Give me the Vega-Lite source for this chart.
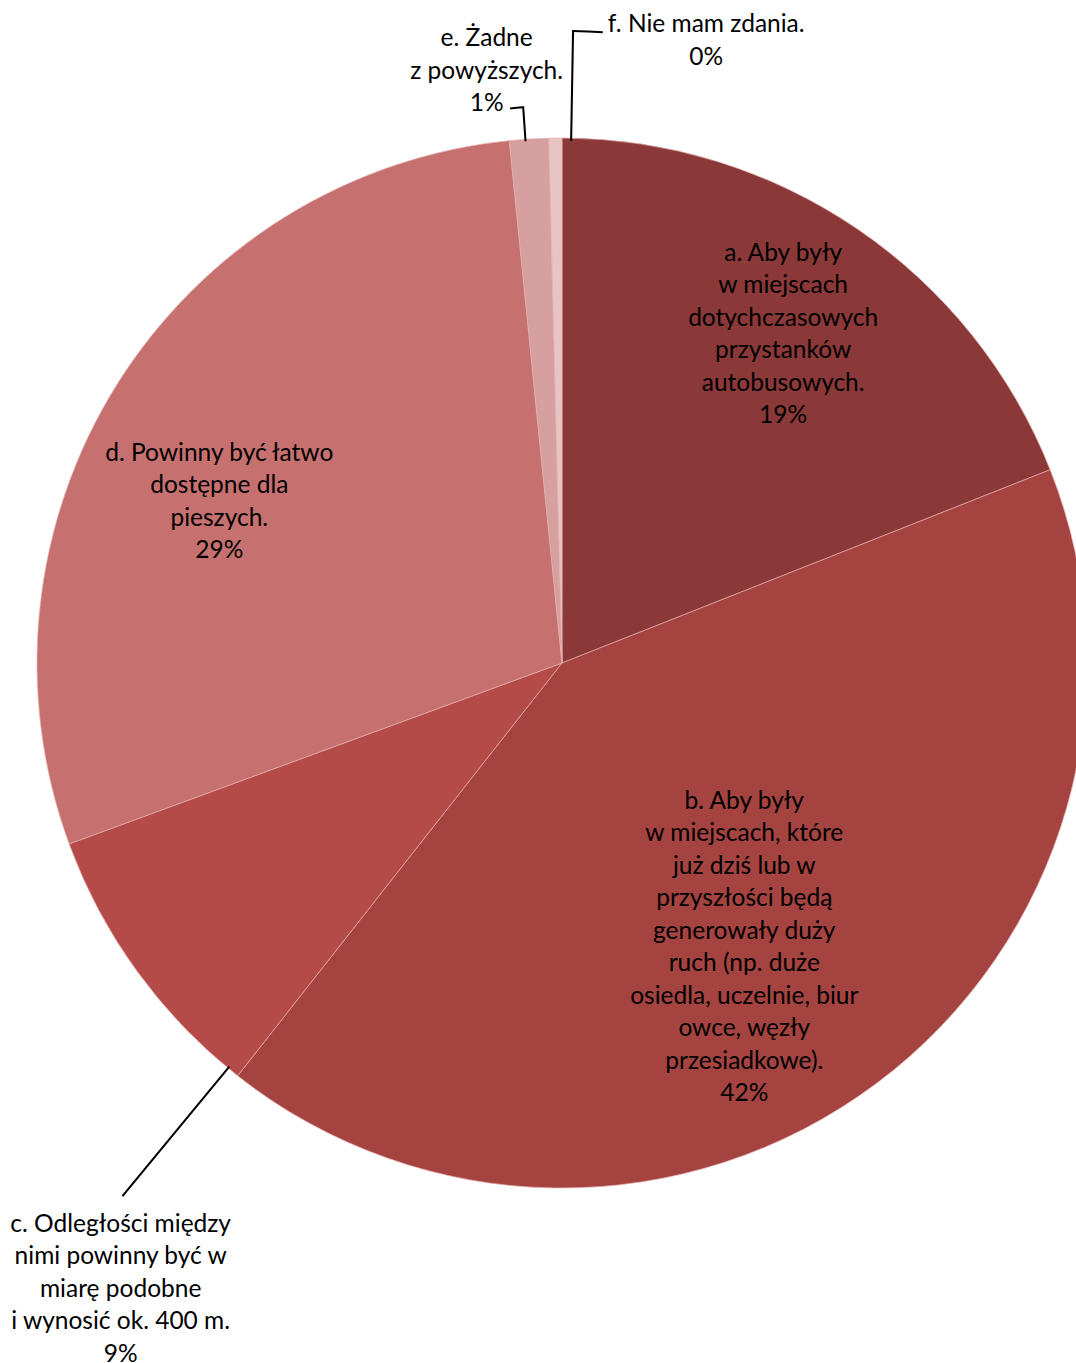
{
  "$schema": "https://vega.github.io/schema/vega-lite/v6.json",
  "width": 1028,
  "height": 1326,
  "autosize": {"type": "none"},
  "padding": {"left": 48, "top": 0, "right": 0, "bottom": 37},
  "background": "white",
  "config": {"view": {"stroke": null}},
  "data": {
    "values": [
      {"k": "a", "v": 19.0, "label": "a. Aby były\nw miejscach\ndotychczasowych\nprzystanków\nautobusowych.\n19%"},
      {"k": "b", "v": 41.6, "label": "b. Aby były\nw miejscach, które\njuż dziś lub w\nprzyszłości będą\ngenerowały duży\nruch (np. duże\nosiedla, uczelnie, biur\nowce, węzły\nprzesiadkowe).\n42%"},
      {"k": "c", "v": 8.8, "label": "c. Odległości między\nnimi powinny być w\nmiarę podobne\ni wynosić ok. 400 m.\n9%"},
      {"k": "d", "v": 29.0, "label": "d. Powinny być łatwo\ndostępne dla\npieszych.\n29%"},
      {"k": "e", "v": 1.2, "label": "e. Żadne\nz powyższych.\n1%"},
      {"k": "f", "v": 0.4, "label": "f. Nie mam zdania.\n0%"}
    ]
  },
  "layer": [
    {
      "mark": {"type": "arc", "outerRadius": 525, "stroke": "#E2AEAD", "strokeWidth": 0.7},
      "encoding": {
        "theta": {"field": "v", "type": "quantitative", "stack": true},
        "order": {"field": "k", "type": "ordinal", "sort": "ascending"},
        "color": {
          "field": "k",
          "type": "nominal",
          "scale": {"domain": ["a", "b", "c", "d", "e", "f"], "range": ["#8B3838", "#A54341", "#B44B49", "#C6716F", "#D6A0A0", "#E8C4C4"]},
          "legend": null
        }
      }
    },
    {
      "transform": [{"filter": "datum.k === 'c'"}],
      "mark": {"type": "arc", "stroke": "black", "strokeWidth": 2, "fillOpacity": 0},
      "encoding": {"theta": {"value": 3.831}, "theta2": {"value": 3.8311}, "radius": {"value": 690}, "radius2": {"value": 524}}
    },
    {
      "transform": [{"filter": "datum.k === 'e'"}],
      "mark": {"type": "arc", "stroke": "black", "strokeWidth": 2, "fillOpacity": 0},
      "encoding": {"theta": {"value": 6.2134}, "theta2": {"value": 6.2135}, "radius": {"value": 557}, "radius2": {"value": 524}}
    },
    {
      "transform": [{"filter": "datum.k === 'e'"}],
      "mark": {"type": "arc", "stroke": "black", "strokeWidth": 2, "fillOpacity": 0},
      "encoding": {"theta": {"value": 6.1898}, "theta2": {"value": 6.2134}, "radius": {"value": 557}, "radius2": {"value": 557}}
    },
    {
      "transform": [{"filter": "datum.k === 'f'"}],
      "mark": {"type": "arc", "stroke": "black", "strokeWidth": 2, "fillOpacity": 0},
      "encoding": {"theta": {"value": 0.01745}, "theta2": {"value": 0.01755}, "radius": {"value": 632}, "radius2": {"value": 523}}
    },
    {
      "transform": [{"filter": "datum.k === 'f'"}],
      "mark": {"type": "arc", "stroke": "black", "strokeWidth": 2, "fillOpacity": 0},
      "encoding": {"theta": {"value": 0.01745}, "theta2": {"value": 0.0646}, "radius": {"value": 632}, "radius2": {"value": 632}}
    },
    {
      "mark": {"type": "text", "font": "Lato", "fontSize": 24.5, "lineHeight": 32.5, "lineBreak": "\n", "align": "center", "baseline": "middle", "color": "black", "dx": -2, "dy": -81},
      "encoding": {
        "theta": {"field": "v", "type": "quantitative", "stack": true},
        "order": {"field": "k", "type": "ordinal", "sort": "ascending"},
        "detail": {"field": "k", "type": "nominal"},
        "radius": {"value": 397},
        "text": {"condition": {"test": "datum.k === 'a'", "field": "label"}, "value": ""}
      }
    },
    {
      "mark": {"type": "text", "font": "Lato", "fontSize": 24.5, "lineHeight": 32.5, "lineBreak": "\n", "align": "center", "baseline": "middle", "color": "black", "dx": -21, "dy": -134},
      "encoding": {
        "theta": {"field": "v", "type": "quantitative", "stack": true},
        "order": {"field": "k", "type": "ordinal", "sort": "ascending"},
        "detail": {"field": "k", "type": "nominal"},
        "radius": {"value": 340},
        "text": {"condition": {"test": "datum.k === 'b'", "field": "label"}, "value": ""}
      }
    },
    {
      "mark": {"type": "text", "font": "Lato", "fontSize": 24.5, "lineHeight": 32.5, "lineBreak": "\n", "align": "center", "baseline": "middle", "color": "black", "dx": 146, "dy": 135},
      "encoding": {
        "theta": {"field": "v", "type": "quantitative", "stack": true},
        "order": {"field": "k", "type": "ordinal", "sort": "ascending"},
        "detail": {"field": "k", "type": "nominal"},
        "radius": {"value": 726},
        "text": {"condition": {"test": "datum.k === 'c'", "field": "label"}, "value": ""}
      }
    },
    {
      "mark": {"type": "text", "font": "Lato", "fontSize": 24.5, "lineHeight": 32.5, "lineBreak": "\n", "align": "center", "baseline": "middle", "color": "black", "dx": -24, "dy": -10},
      "encoding": {
        "theta": {"field": "v", "type": "quantitative", "stack": true},
        "order": {"field": "k", "type": "ordinal", "sort": "ascending"},
        "detail": {"field": "k", "type": "nominal"},
        "radius": {"value": 376},
        "text": {"condition": {"test": "datum.k === 'd'", "field": "label"}, "value": ""}
      }
    },
    {
      "mark": {"type": "text", "font": "Lato", "fontSize": 24.5, "lineHeight": 32.5, "lineBreak": "\n", "align": "center", "baseline": "middle", "color": "black", "dx": -38, "dy": -30},
      "encoding": {
        "theta": {"field": "v", "type": "quantitative", "stack": true},
        "order": {"field": "k", "type": "ordinal", "sort": "ascending"},
        "detail": {"field": "k", "type": "nominal"},
        "radius": {"value": 595},
        "text": {"condition": {"test": "datum.k === 'e'", "field": "label"}, "value": ""}
      }
    },
    {
      "mark": {"type": "text", "font": "Lato", "fontSize": 24.5, "lineHeight": 32.5, "lineBreak": "\n", "align": "center", "baseline": "middle", "color": "black", "dx": 152, "dy": -18},
      "encoding": {
        "theta": {"field": "v", "type": "quantitative", "stack": true},
        "order": {"field": "k", "type": "ordinal", "sort": "ascending"},
        "detail": {"field": "k", "type": "nominal"},
        "radius": {"value": 620},
        "text": {"condition": {"test": "datum.k === 'f'", "field": "label"}, "value": ""}
      }
    }
  ]
}
